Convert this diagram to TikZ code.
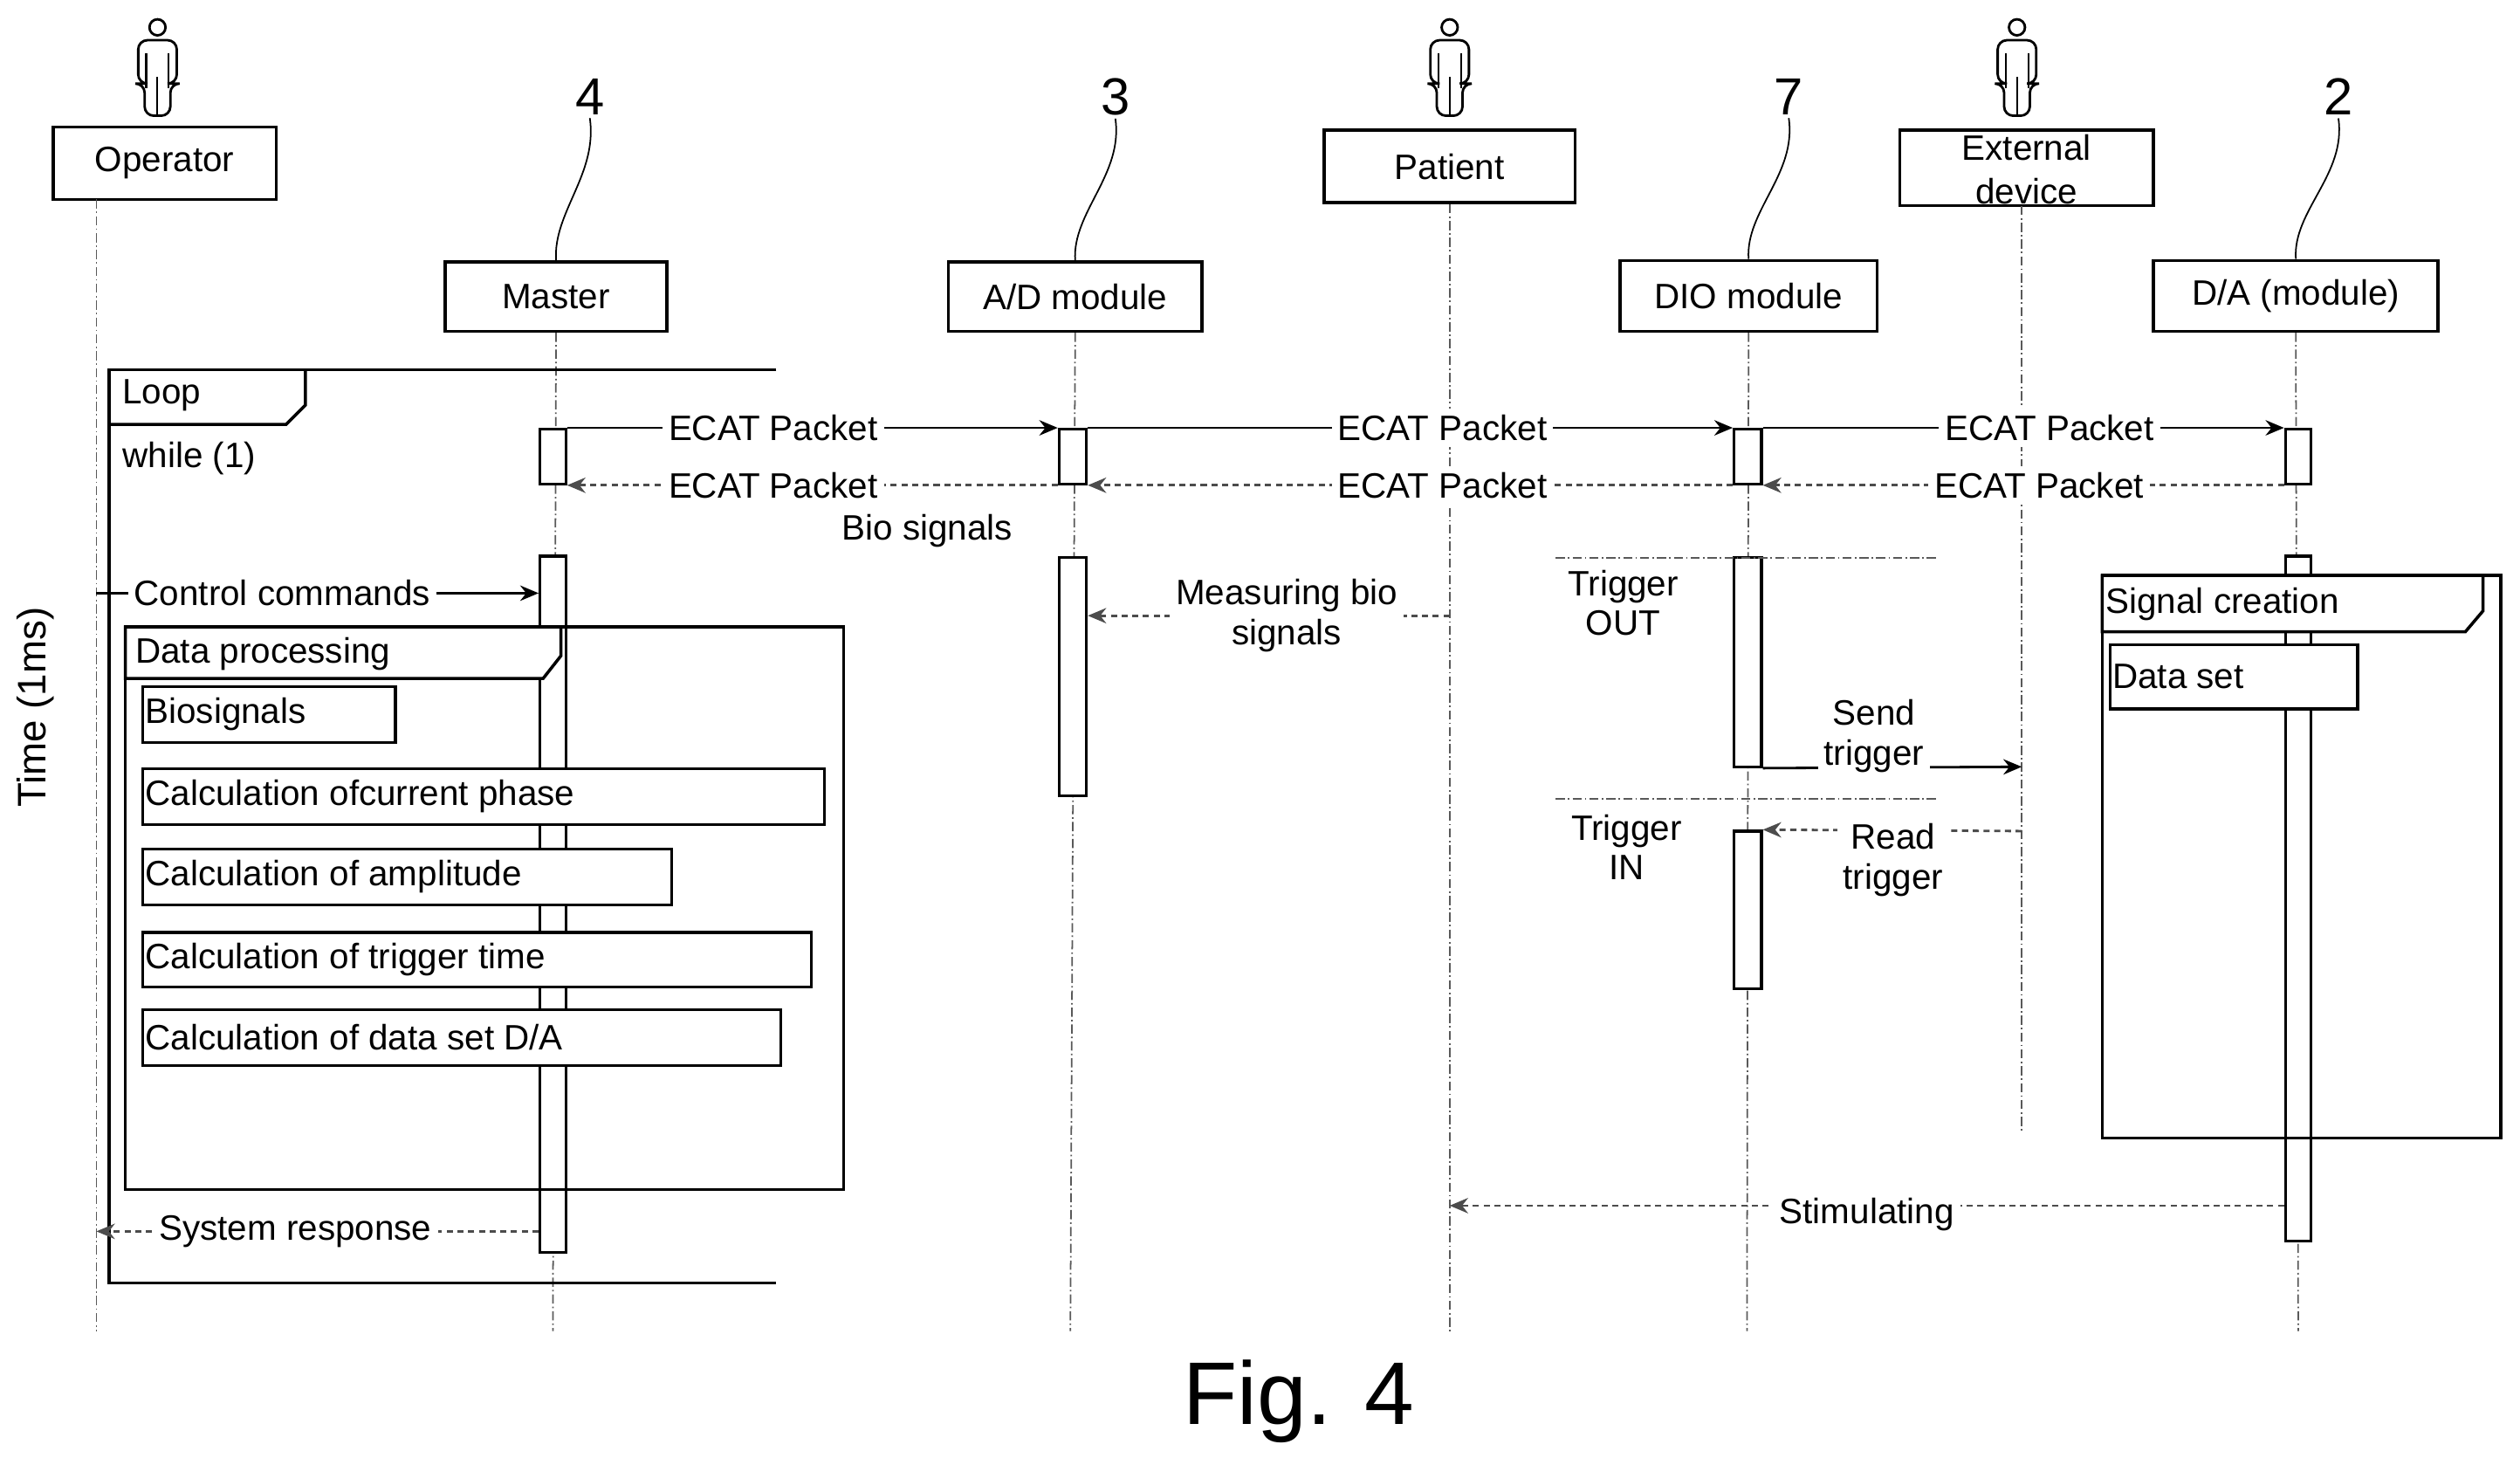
\documentclass[tikz,border=0pt]{standalone}
\usepackage{fontspec}
\setmainfont{Liberation Sans}
\usetikzlibrary{positioning}
\usetikzlibrary{arrows.meta}
\usetikzlibrary{fit}
\tikzstyle{head} = [draw, line width=1pt, inner sep=0]
\tikzstyle{bar} = [draw, line width=0.9pt, fill=white, inner sep=0]
\tikzstyle{pbox} = [draw, line width=0.9pt, fill=white, inner sep=0]
\tikzstyle{life} = [gray!70!black, line width=0.5pt, dash pattern=on 3pt off 1pt on 0.5pt off 1pt]
\tikzstyle{msg} = [line width=0.8pt, -{Stealth[length=6pt,width=5pt]}]
\tikzstyle{ret} = [msg, dash pattern=on 2pt off 1.5pt, gray!60!black]
\tikzstyle{lbl} = [fill=white, inner sep=2pt, font=\fontsize{11.5}{13}\selectfont, align=center]
\tikzstyle{txt} = [inner sep=1pt, font=\fontsize{11.5}{13}\selectfont, align=center]
\tikzstyle{frame} = [line width=1pt]
\tikzset{person/.pic={
	\draw[line width=0.8pt] (0,17) circle (5);
	\draw[line width=0.8pt, rounded corners=3] (-12,52)--(-12,25)--(12,25)--(12,52)--(8,52)--(8,72)--(-8,72)--(-8,52)--cycle;
	\draw[line width=0.6pt] (-7,33)--(-7,55) (7,33)--(7,55) (0,48)--(0,72);
}}
\begin{document}
\begin{tikzpicture}[x=0.01841cm, y=-0.01841cm]
	\useasboundingbox (0,0) rectangle (1568,911);

	% actors and headers
	\pic at (98,0) {person};
	\pic at (902,0) {person};
	\pic at (1255,0) {person};
	\node[head, fit={(33,79)(172,124)}] (op) {};
	\node[txt] at (op.center) {Operator};
	\node[head, fit={(277,163)(415,206)}] (mas) {};
	\node[txt] at (mas.center) {Master};
	\node[head, fit={(590,163)(748,206)}] (ad) {};
	\node[txt] at (ad.center) {A/D module};
	\node[head, fit={(824,81)(980,126)}] (pat) {};
	\node[txt] at (pat.center) {Patient};
	\node[head, fit={(1008,162)(1168,206)}] (dio) {};
	\node[txt] at (dio.center) {DIO module};
	\node[head, fit={(1182,81)(1340,128)}] (ext) {};
	\node[txt] at (1261,92) {External};
	\node[txt] at (1261,119) {device};
	\node[head, fit={(1340,162)(1517,206)}] (da) {};
	\node[txt] at (da.center) {D/A (module)};

	% reference numbers
	\node[txt, font=\fontsize{17}{19}\selectfont] (n4) at (367,60) {4};
	\node[txt, font=\fontsize{17}{19}\selectfont] (n3) at (694,60) {3};
	\node[txt, font=\fontsize{17}{19}\selectfont] (n7) at (1113,60) {7};
	\node[txt, font=\fontsize{17}{19}\selectfont] (n2) at (1455,60) {2};
	\foreach \n/\h in {n4/mas, n3/ad, n7/dio, n2/da}
		\draw[line width=0.5pt] (\n.south) .. controls +(5,35) and +(-2,-30) .. (\h.north);

	% lifelines
	\coordinate (opE) at (60,828);
	\coordinate (masE) at (344,828);
	\coordinate (adE) at (666,828);
	\coordinate (patE) at (902,828);
	\coordinate (dioE) at (1087,828);
	\coordinate (extE) at (1258,705);
	\coordinate (daE) at (1430,828);
	\draw[life] (60,124) -- (opE);
	\draw[life] (mas.south) -- (masE);
	\draw[life] (ad.south) -- (adE);
	\draw[life] (pat.south) -- (patE);
	\draw[life] (dio.south) -- (dioE);
	\draw[life] (1258,128) -- (extE);
	\draw[life] (da.south) -- (daE);

	% loop frame
	\draw[frame] (483,230) -- (68,230) -- (68,798) -- (483,798);
	\draw[frame] (190,230) -- (190,252) -- (178,264) -- (68,264);
	\node[txt, anchor=west] at (74,246) {Loop};
	\node[txt, anchor=west] at (74,285) {while (1)};

	% activation bars
	\node[bar, fit={(336,267)(352,301)}] (mb1) {};
	\node[bar, fit={(659,267)(676,301)}] (ab1) {};
	\node[bar, fit={(1079,267)(1096,301)}] (db1) {};
	\node[bar, fit={(1422,267)(1438,301)}] (dab1) {};
	\node[bar, fit={(336,346)(352,779)}] (mb2) {};
	\node[bar, fit={(659,347)(676,495)}] (ab2) {};
	\node[bar, fit={(1079,347)(1096,477)}] (db2) {};
	\node[bar, fit={(1079,517)(1096,615)}] (db3) {};
	\node[bar, fit={(1422,346)(1438,772)}] (dab2) {};

	% ECAT packets
	\draw[msg] (mb1.north east) -- node[lbl, pos=0.42] {ECAT Packet} (ab1.north west);
	\draw[msg] (ab1.north east) -- node[lbl, pos=0.55] {ECAT Packet} (db1.north west);
	\draw[msg] (db1.north east) -- node[lbl, pos=0.55] {ECAT Packet} (dab1.north west);
	\draw[ret] (ab1.south west) -- node[lbl, text=black, pos=0.58] {ECAT Packet} (mb1.south east);
	\draw[ret] (db1.south west) -- node[lbl, text=black, pos=0.45] {ECAT Packet} (ab1.south east);
	\draw[ret] (dab1.south west) -- node[lbl, text=black, pos=0.47] {ECAT Packet} (db1.south east);
	\node[txt] at (577,330) {Bio signals};

	% control commands and bio signals
	\coordinate (opC) at (60,369);
	\draw[msg] (opC) -- node[lbl, pos=0.42] {Control commands} (mb2.west |- opC);
	\coordinate (patM) at (902,383);
	\draw[ret] (patM) -- node[lbl, text=black, pos=0.45] {Measuring bio\\signals} (ab2.east |- patM);

	% data processing frame
	\draw[frame] (78,390) rectangle (525,740);
	\draw[frame, fill=white] (78,422) -- (338,422) -- (349,408) -- (349,390) -- (78,390) -- cycle;
	\node[txt, anchor=west] at (82,407) {Data processing};
	\node[pbox, fit={(89,427)(246,462)}] (bs) {};
	\node[txt, anchor=west] at (bs.west) {Biosignals};
	\node[pbox, fit={(89,478)(513,513)}] (cp) {};
	\node[txt, anchor=west] at (cp.west) {Calculation ofcurrent phase};
	\node[pbox, fit={(89,528)(418,563)}] (ca) {};
	\node[txt, anchor=west] at (ca.west) {Calculation of amplitude};
	\node[pbox, fit={(89,580)(505,614)}] (ct) {};
	\node[txt, anchor=west] at (ct.west) {Calculation of trigger time};
	\node[pbox, fit={(89,628)(486,663)}] (cd) {};
	\node[txt, anchor=west] at (cd.west) {Calculation of data set D/A};

	% system response
	\coordinate (opR) at (60,766);
	\draw[ret] (mb2.west |- opR) -- node[lbl, text=black, pos=0.55] {System response} (opR);

	% triggers
	\draw[life] (968,347) -- (1205,347);
	\draw[life] (968,497) -- (1205,497);
	\node[txt] at (1010,375) {Trigger\\OUT};
	\node[txt] at (1012,527) {Trigger\\IN};
	\coordinate (extS) at (1258,477);
	\draw[msg] (db2.south east) -- (extS);
	\node[lbl] at (1166,458) {Send\\trigger};
	\coordinate (extR) at (1258,517);
	\draw[ret] (extR) -- (db3.north east);
	\node[lbl] at (1178,535) {Read\\trigger};

	% signal creation frame
	\draw[frame] (1308,358) rectangle (1556,708);
	\draw[frame, fill=white] (1308,393) -- (1534,393) -- (1545,380) -- (1545,358) -- (1308,358) -- cycle;
	\node[txt, anchor=west] at (1308,376) {Signal creation};
	\node[pbox, fit={(1313,401)(1467,441)}] (ds) {};
	\node[txt, anchor=west] at (ds.west) {Data set};

	% stimulating
	\coordinate (patS) at (902,750);
	\draw[ret] (dab2.west |- patS) -- node[lbl, text=black, pos=0.5, yshift=-3] {Stimulating} (patS);

	% captions
	\node[txt, rotate=90, font=\fontsize{13}{15}\selectfont] at (22,440) {Time (1ms)};
	\node[txt, font=\fontsize{29}{32}\selectfont] at (808,872) {Fig. 4};
\end{tikzpicture}
\end{document}
